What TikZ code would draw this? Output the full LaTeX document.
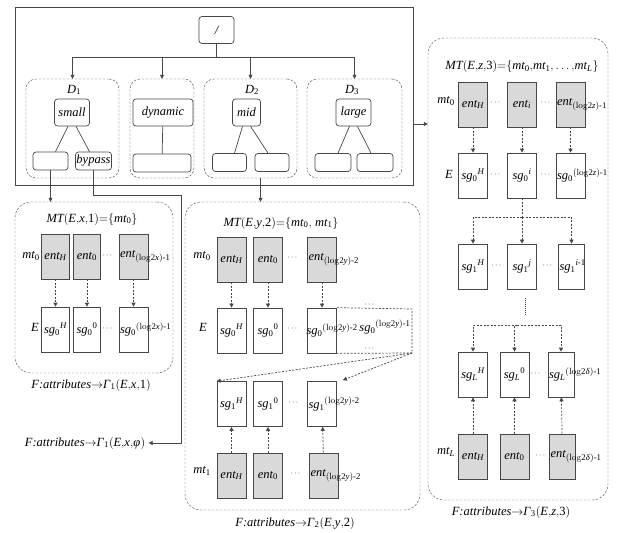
\documentclass[tikz,border=0pt]{standalone}
\usepackage{amsmath}
\usepackage{amssymb}
\usepackage{mathspec}
\setmainfont{Liberation Serif}
\setmathsfont(Digits,Latin,Greek){Liberation Serif}
\usepackage{tikz}
\usetikzlibrary{positioning, arrows.meta, calc}
\definecolor{linegray}{rgb}{0.28,0.28,0.28}
\definecolor{cellbg}{rgb}{0.85,0.85,0.85}
\newcommand{\lgx}[2]{(\mathrm{log2}#1)\text{-}#2}
\newcommand{\cellname}[1]{\makebox[0pt]{#1}}
\newcommand{\wname}[1]{\makebox[0pt][l]{\hspace{-13.5pt}#1}}
\newcommand{\Fattr}[1]{$F$\textit{:attributes}$\rightarrow$\textit{Γ}$_{#1}$}

\begin{document}
\begin{tikzpicture}[
  x=1pt, y=-1pt,
  every node/.style={font=\fontsize{12.5}{14}\selectfont},
  tree/.style={draw=linegray, line width=0.7pt, rounded corners=3pt, minimum width=35pt, minimum height=27pt, inner sep=1pt, font=\fontsize{12.5}{14}\selectfont\itshape},
  leaf/.style={tree, minimum height=18pt},
  group/.style={draw=linegray, dash pattern=on 2.5pt off 1.5pt, rounded corners=10pt, minimum height=99pt},
  panel/.style={draw=linegray, dash pattern=on 2.5pt off 1.5pt, rounded corners=16pt},
  cell/.style={draw=linegray, line width=0.7pt, minimum width=29pt, minimum height=45pt, inner sep=0pt},
  ent/.style={cell, fill=cellbg},
  dots/.style={font=\footnotesize},
  line/.style={draw=linegray, line width=0.7pt},
  dline/.style={line, dash pattern=on 2pt off 1.5pt},
  arr/.style={line, -{Triangle[length=4pt,width=4pt]}},
  darr/.style={dline, -{Triangle[length=4pt,width=4pt]}},
]
\useasboundingbox (0,0) rectangle (617,532);

% top tree
\node[draw=linegray, line width=0.8pt, minimum width=398pt, minimum height=178pt] (frame) at (214,96) {};
\node[tree] (root) at (216.5,30) {/};
\coordinate (bus) at (216.5,57);

\node[group, minimum width=93pt] (g1) at (72.5,128.5) {};
\node[group, minimum width=64pt] (g2) at (162,128.5) {};
\node[group, minimum width=93pt] (g3) at (250.5,128.5) {};
\node[group, minimum width=95pt] (g4) at (354.5,128.5) {};

\draw[line] (root) -- (bus);
\draw[arr] (bus) -| (g1);
\draw[arr] (bus) -| (g2);
\draw[arr] (bus) -| (g3);
\draw[arr] (bus) -| (g4);

\node (d1) at (74,90) {$D_1$};
\node (d2) at (252,90) {$D_2$};
\node (d3) at (352,90) {$D_3$};

\node[tree] (small) at (72,112.5) {small};
\node[leaf] (sa) at (50.5,161) {};
\node[leaf] (sb) at (93.5,161) {bypass};
\draw[line] ([xshift=-4pt]small.south) -- ([xshift=5pt]sa.north);
\draw[line] ([xshift=4pt]small.south) -- ([xshift=-4pt]sb.north);

\node[tree, minimum width=60pt] (dyn) at (163,112.5) {dynamic};
\node[leaf, minimum width=58pt] (dc) at (162,163) {};
\draw[line] (dyn) -- (dc);

\node[tree, minimum width=28pt] (mid) at (246.5,112.5) {mid};
\node[leaf, minimum width=34pt] (ma) at (229.5,162.5) {};
\node[leaf, minimum width=34pt] (mb) at (272,162.5) {};
\draw[line] ([xshift=-4pt]mid.south) -- ([xshift=5pt]ma.north);
\draw[line] ([xshift=4pt]mid.south) -- ([xshift=-4pt]mb.north);

\node[tree] (large) at (353.5,112.5) {large};
\node[leaf, minimum width=36pt] (la) at (333,162.5) {};
\node[leaf, minimum width=36pt] (lb) at (375,162.5) {};
\draw[line] ([xshift=-4pt]large.south) -- ([xshift=5pt]la.north);
\draw[line] ([xshift=4pt]large.south) -- ([xshift=-4pt]lb.north);

% panel 1
\node[panel, minimum width=158pt, minimum height=171pt] (p1) at (94,287.5) {};
\node (t1) at (92,219) {$MT(E{,}x{,}1){=}\{mt_0\}$};
\node (m1) at (31,256) {$mt_0$};
\node (l1) at (35,327) {$E$};
\node[ent, minimum width=28pt] (e1a) at (55.5,256.5) {\cellname{$ent_H$}};
\node[ent, minimum width=27pt] (e1b) at (87,256.5) {\cellname{$ent_0$}};
\node[ent] (e1c) at (133.5,256.5) {\wname{$ent_{\lgx{x}{1}}$}};
\node[cell, minimum width=28pt] (s1a) at (55.5,329.5) {\cellname{$sg_0{}^H$}};
\node[cell, minimum width=27pt] (s1b) at (87,329.5) {\cellname{$sg_0{}^0$}};
\node[cell] (s1c) at (133.5,329.5) {\wname{$sg_0{}^{\lgx{x}{1}}$}};
\node[dots] (o1a) at (108,256) {$\cdots$};
\node[dots] (o1b) at (108,329) {$\cdots$};
\foreach \c in {a,b,c} \draw[darr] (e1\c) -- (s1\c);
\node (c1) at (91,385) {\Fattr{1}$(E{,}x{,}1)$};

% bypass
\node (cnull) at (85,443) {\Fattr{1}$(E{,}x{,}\phi)$};
\coordinate (bend) at (181,195);
\draw[arr] (sa.south) -- (sa.south |- p1.north);
\draw[arr] (sb.south) |- (bend) |- (cnull.east);

% panel 2
\node[panel, minimum width=235pt, minimum height=308pt] (p2) at (302.5,356) {};
\draw[arr] ([xshift=10pt]g3.south) -- ([xshift=10pt]g3.south |- p2.north);
\node (t2) at (281,223) {$MT(E{,}y{,}2){=}\{mt_0{,}\;mt_1\}$};
\node (m2) at (202,256) {$mt_0$};
\node (l2) at (203,327) {$E$};
\node (n2) at (202,471) {$mt_1$};
\node[ent] (e2a) at (231.5,259.5) {\cellname{$ent_H$}};
\node[ent] (e2b) at (268,259.5) {\cellname{$ent_0$}};
\node[ent] (e2c) at (322,259.5) {\wname{$ent_{\lgx{y}{2}}$}};
\node[cell] (s2a) at (231.5,330.5) {\cellname{$sg_0{}^H$}};
\node[cell] (s2b) at (268,330.5) {\cellname{$sg_0{}^0$}};
\node[cell] (s2c) at (322,330.5) {\wname{\hspace{-2pt}$sg_0{}^{\lgx{y}{2}}$}};
\node[cell] (u2a) at (231.5,404) {\cellname{$sg_1{}^H$}};
\node[cell] (u2b) at (268,404) {\cellname{$sg_1{}^0$}};
\node[cell] (u2c) at (322,404) {\wname{$sg_1{}^{\lgx{y}{2}}$}};
\node[ent] (f2a) at (231.5,475.5) {\cellname{$ent_H$}};
\node[ent] (f2b) at (268,475.5) {\cellname{$ent_0$}};
\node[ent] (f2c) at (324,475.5) {\wname{$ent_{\lgx{y}{2}}$}};
\node[dots] (o2a) at (293,258) {$\cdots$};
\node[dots] (o2b) at (293,329) {$\cdots$};
\node[dots] (o2c) at (294,403) {$\cdots$};
\node[dots] (o2d) at (296,474) {$\cdots$};
\node (s2x) at (385,327) {$sg_0{}^{\lgx{y}{1}}$};
\coordinate (xt) at (412,309);
\coordinate (xb) at (412,353);
\draw[dline] (s2c.north east) -- (xt) -- (xb) -- (s2c.south east);
\node[dots] (xd1) at (370,305) {$\cdots$};
\node[dots] (xd2) at (370,349) {$\cdots$};
\foreach \c in {a,b,c} \draw[darr] (e2\c) -- (s2\c);
\foreach \c in {a,b,c} \draw[darr] (f2\c) -- (u2\c);
\draw[darr] (xb) -- (u2a.north west);
\draw[darr] (xb) -- ([xshift=6pt,yshift=1pt]u2c.north east);
\node (c2) at (295,523) {\Fattr{2}$(E{,}y{,}2)$};

% panel 3
\node[panel, minimum width=180pt, minimum height=462pt] (p3) at (518,269) {};
\draw[arr] ([yshift=-28pt]frame.east) -- ([yshift=-28pt]frame.east -| p3.west);
\node (t3) at (522,67) {$MT(E{,}z{,}3){=}\{mt_0{,}mt_1{,}\ldots{,}mt_L\}$};
\node (m3) at (446,101) {$mt_0$};
\node (l3) at (449,174) {$E$};
\node (n3) at (446,452) {$mt_L$};
\node[ent] (e3a) at (473,104.5) {\cellname{$ent_H$}};
\node[ent] (e3b) at (522,104.5) {\cellname{$ent_i$}};
\node[ent] (e3c) at (570.5,104.5) {\wname{$ent_{\lgx{z}{1}}$}};
\node[cell] (s3a) at (473,175.5) {\cellname{$sg_0{}^H$}};
\node[cell] (s3b) at (522,175.5) {\cellname{$sg_0{}^i$}};
\node[cell] (s3c) at (570.5,175.5) {\wname{$sg_0{}^{\lgx{z}{1}}$}};
\node[cell] (u3a) at (473,266.5) {\cellname{$sg_1{}^H$}};
\node[cell] (u3b) at (522,266.5) {\cellname{$sg_1{}^j$}};
\node[cell, minimum width=26pt] (u3c) at (571.5,266.5) {\wname{\hspace{1.5pt}$sg_1{}^{i\text{-}1}$}};
\node[cell] (v3a) at (473,374.5) {\cellname{$sg_L{}^H$}};
\node[cell] (v3b) at (514.5,374.5) {\cellname{$sg_L{}^0$}};
\node[cell, minimum width=26pt] (v3c) at (561,374.5) {\wname{\hspace{1.5pt}$sg_L{}^{\lgx{\delta}{1}}$}};
\node[ent] (f3a) at (473,456.5) {\cellname{$ent_H$}};
\node[ent] (f3b) at (514.5,456.5) {\cellname{$ent_0$}};
\node[ent, minimum width=26pt] (f3c) at (562.5,456.5) {\wname{\hspace{1.5pt}$ent_{\lgx{\delta}{1}}$}};
\node[dots] (o3a) at (496,103) {$\cdots$};
\node[dots] (o3b) at (546,103) {$\cdots$};
\node[dots] (o3c) at (496,175) {$\cdots$};
\node[dots] (o3d) at (546,175) {$\cdots$};
\node[dots] (o3e) at (497,266) {$\cdots$};
\node[dots] (o3f) at (548,266) {$\cdots$};
\node[dots] (o3g) at (536,374) {$\cdots$};
\node[dots] (o3h) at (541,456) {$\cdots$};
\foreach \c in {a,b,c} \draw[darr] (e3\c) -- (s3\c);
\coordinate (sp1) at (522,217);
\draw[dline] (s3b) -- (sp1);
\draw[darr] (sp1) -| (u3a);
\draw[darr] (sp1) -- (u3b);
\draw[darr] (sp1) -| (u3c);
\coordinate (vt) at (525,298);
\coordinate (vb) at (525,315);
\draw[draw=linegray, densely dotted, line width=1pt] (vt) -- (vb);
\coordinate (sp2) at (517,325);
\draw[darr] (sp2) -| (v3a);
\draw[darr] (sp2) -| (v3b);
\draw[darr] (sp2) -| (v3c);
\foreach \c in {a,b,c} \draw[darr] (f3\c) -- (v3\c);
\node (c3) at (511,512) {\Fattr{3}$(E{,}z{,}3)$};
\end{tikzpicture}
\end{document}
